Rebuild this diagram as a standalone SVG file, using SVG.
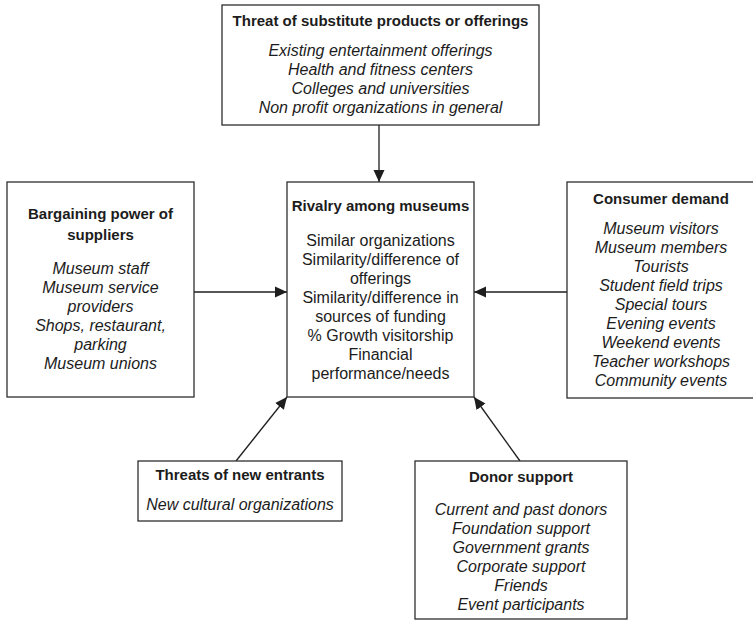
<svg xmlns="http://www.w3.org/2000/svg" width="753" height="621" viewBox="0 0 753 621">
  <style>
    .box { fill: #ffffff; stroke: #2e2e2e; stroke-width: 1.3; }
    .title { font-family: "Liberation Sans", Arial, sans-serif; font-size: 15px; font-weight: bold; fill: #1c1c1c; text-anchor: middle; }
    .item { font-family: "Liberation Sans", Arial, sans-serif; font-size: 16px; font-style: italic; fill: #1c1c1c; text-anchor: middle; }
    .plain { font-family: "Liberation Sans", Arial, sans-serif; font-size: 16px; fill: #1c1c1c; text-anchor: middle; }
    .link { stroke: #1e1e1e; stroke-width: 1.3; fill: none; marker-end: url(#arrow); }
  </style>
  <defs>
    <marker id="arrow" markerUnits="userSpaceOnUse" markerWidth="12" markerHeight="12" refX="12" refY="6" orient="auto">
      <path d="M0,0.5 L12,6 L0,11.5 z" fill="#1e1e1e"/>
    </marker>
  </defs>

  <rect width="753" height="621" fill="#ffffff"/>

  <!-- connectors -->
  <g id="connectors">
    <line class="link" x1="379" y1="125" x2="379" y2="182"/>
    <line class="link" x1="194" y1="292" x2="287" y2="292"/>
    <line class="link" x1="567" y1="292" x2="474" y2="292"/>
    <line class="link" x1="236" y1="461" x2="287" y2="397"/>
    <line class="link" x1="520" y1="461" x2="474" y2="397"/>
  </g>

  <!-- substitutes -->
  <g id="substitutes">
    <rect class="box" x="222" y="5" width="317" height="120"/>
    <text class="title" x="380.5" y="26">Threat of substitute products or offerings</text>
    <text class="item" x="380.5" y="55.5">Existing entertainment offerings</text>
    <text class="item" x="380.5" y="74.5">Health and fitness centers</text>
    <text class="item" x="380.5" y="93.5">Colleges and universities</text>
    <text class="item" x="380.5" y="112.5">Non profit organizations in general</text>
  </g>

  <!-- suppliers -->
  <g id="suppliers">
    <rect class="box" x="7" y="182" width="187" height="215"/>
    <text class="title" x="100.5" y="218.5">Bargaining power of</text>
    <text class="title" x="100.5" y="239.5">suppliers</text>
    <text class="item" x="100.5" y="273.5">Museum staff</text>
    <text class="item" x="100.5" y="292.5">Museum service</text>
    <text class="item" x="100.5" y="311.5">providers</text>
    <text class="item" x="100.5" y="330.5">Shops, restaurant,</text>
    <text class="item" x="100.5" y="349.5">parking</text>
    <text class="item" x="100.5" y="368.5">Museum unions</text>
  </g>

  <!-- rivalry -->
  <g id="rivalry">
    <rect class="box" x="287" y="182" width="187" height="215"/>
    <text class="title" x="380.5" y="210.5">Rivalry among museums</text>
    <text class="plain" x="380.5" y="245.5">Similar organizations</text>
    <text class="plain" x="380.5" y="264.5">Similarity/difference of</text>
    <text class="plain" x="380.5" y="283.5">offerings</text>
    <text class="plain" x="380.5" y="302.5">Similarity/difference in</text>
    <text class="plain" x="380.5" y="321.5">sources of funding</text>
    <text class="plain" x="380.5" y="340.5">% Growth visitorship</text>
    <text class="plain" x="380.5" y="359.5">Financial</text>
    <text class="plain" x="380.5" y="378.5">performance/needs</text>
  </g>

  <!-- consumer demand -->
  <g id="consumers">
    <rect class="box" x="567" y="182" width="190" height="216"/>
    <text class="title" x="661" y="203.5">Consumer demand</text>
    <text class="item" x="661" y="233.5">Museum visitors</text>
    <text class="item" x="661" y="252.5">Museum members</text>
    <text class="item" x="661" y="271.5">Tourists</text>
    <text class="item" x="661" y="290.5">Student field trips</text>
    <text class="item" x="661" y="309.5">Special tours</text>
    <text class="item" x="661" y="328.5">Evening events</text>
    <text class="item" x="661" y="347.5">Weekend events</text>
    <text class="item" x="661" y="366.5">Teacher workshops</text>
    <text class="item" x="661" y="385.5">Community events</text>
  </g>

  <!-- new entrants -->
  <g id="entrants">
    <rect class="box" x="138" y="461" width="204" height="60"/>
    <text class="title" x="240" y="479.5">Threats of new entrants</text>
    <text class="item" x="240" y="509.5">New cultural organizations</text>
  </g>

  <!-- donors -->
  <g id="donors">
    <rect class="box" x="415" y="461" width="212" height="158"/>
    <text class="title" x="521" y="482">Donor support</text>
    <text class="item" x="521" y="515">Current and past donors</text>
    <text class="item" x="521" y="534">Foundation support</text>
    <text class="item" x="521" y="553">Government grants</text>
    <text class="item" x="521" y="572">Corporate support</text>
    <text class="item" x="521" y="591">Friends</text>
    <text class="item" x="521" y="610">Event participants</text>
  </g>
</svg>
